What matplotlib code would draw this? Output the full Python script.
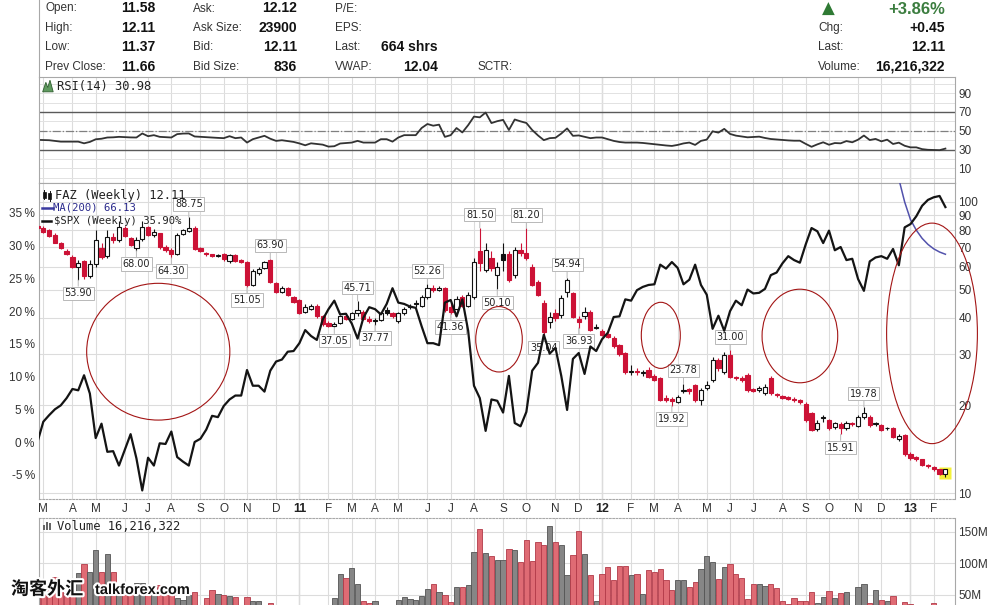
import numpy as np
import pandas as pd
import matplotlib
matplotlib.use("Agg")
import matplotlib.pyplot as plt
import matplotlib.transforms as mtrans
import matplotlib.patheffects as pe
from matplotlib.patches import Ellipse, Polygon, Rectangle
from matplotlib.lines import Line2D
from matplotlib.ticker import NullLocator

plt.rcParams['font.family'] = ['Liberation Sans', 'DejaVu Sans']

# weekly bars (week ending Friday)
weeks = pd.date_range("2010-02-26", periods=157, freq="W-FRI")

faz_open = [
    83.0, 81.4, 80.0, 77.0, 72.0, 68.0, 64.5, 60.0, 62.5, 55.5,
    61.0, 69.5, 65.0, 75.5, 74.0, 81.5, 75.0, 69.5, 74.5, 82.0,
    77.0, 78.0, 70.0, 68.5, 66.0, 77.5, 79.5, 81.5, 69.5, 67.0,
    66.0, 65.2, 66.0, 62.5, 65.5, 63.0, 62.0, 52.0, 57.0, 59.5,
    63.0, 52.5, 49.0, 50.5, 47.0, 46.0, 41.8, 43.0, 44.0, 40.5,
    38.5, 37.4, 38.5, 40.5, 39.5, 41.5, 42.0, 39.5, 39.0, 39.3,
    42.5, 41.5, 39.0, 41.5, 43.5, 45.0, 44.0, 47.0, 50.5, 50.0,
    50.5, 43.5, 43.0, 47.0, 44.0, 47.0, 68.0, 58.5, 64.0, 56.0,
    66.0, 66.0, 56.0, 68.5, 67.0, 60.0, 53.0, 45.0, 38.8, 41.5,
    40.9, 49.0, 48.5, 39.5, 40.5, 42.0, 37.0, 36.0, 35.2, 34.0,
    32.2, 30.3, 26.0, 26.3, 25.8, 26.5, 25.2, 24.8, 21.2, 21.0,
    20.6, 22.5, 22.7, 23.5, 20.9, 22.9, 24.4, 28.7, 26.1, 29.8,
    25.0, 24.8, 25.4, 22.8, 22.6, 22.0, 24.8, 21.9, 21.6, 21.3,
    21.0, 20.8, 20.3, 18.8, 16.55, 18.2, 17.8, 16.9, 17.3, 16.7,
    17.4, 17.0, 18.2, 18.3, 17.3, 17.1, 16.7, 16.7, 15.3, 15.8,
    13.6, 13.3, 13.05, 12.5, 12.3, 12.05, 11.58]
faz_high = [
    84.0, 82.5, 81.0, 78.0, 73.0, 69.0, 65.5, 63.0, 63.0, 63.0,
    80.0, 72.0, 80.0, 78.0, 86.0, 82.5, 76.0, 75.5, 86.0, 83.0,
    80.5, 78.5, 71.0, 69.5, 78.5, 81.0, 88.75, 82.5, 70.0, 67.5,
    66.5, 66.0, 67.0, 66.5, 66.0, 63.5, 62.5, 59.0, 60.0, 62.8,
    63.9, 53.0, 51.5, 51.0, 47.5, 46.5, 44.5, 44.5, 44.5, 41.0,
    39.0, 38.8, 41.0, 41.5, 42.0, 45.71, 42.5, 40.5, 40.0, 42.0,
    43.5, 42.0, 42.0, 43.5, 44.5, 46.0, 48.0, 52.26, 52.0, 51.5,
    51.0, 45.0, 47.5, 48.0, 49.0, 64.0, 81.5, 72.0, 68.0, 62.0,
    72.0, 68.0, 70.0, 72.0, 81.2, 61.0, 54.0, 46.0, 42.0, 43.0,
    48.0, 54.94, 49.0, 40.5, 43.5, 42.5, 38.0, 36.5, 35.6, 34.5,
    32.5, 30.6, 27.5, 26.8, 26.5, 27.0, 25.6, 25.1, 21.8, 21.3,
    21.8, 23.78, 23.0, 23.6, 23.0, 24.2, 29.3, 29.0, 30.4, 31.0,
    25.3, 25.2, 25.8, 23.0, 23.4, 23.6, 25.2, 22.1, 21.8, 21.6,
    21.3, 21.1, 20.6, 19.0, 17.8, 18.5, 18.0, 17.6, 17.5, 17.7,
    17.6, 18.5, 19.78, 18.5, 17.6, 17.3, 16.9, 16.8, 15.9, 16.0,
    13.8, 13.4, 13.1, 12.6, 12.4, 12.1, 12.11]
faz_low = [
    80.5, 78.0, 76.0, 72.0, 69.0, 65.5, 59.5, 53.9, 54.5, 55.0,
    60.0, 63.5, 64.0, 72.5, 73.0, 75.5, 70.5, 68.0, 73.5, 76.5,
    75.5, 69.0, 67.5, 64.3, 65.5, 77.0, 79.0, 68.5, 67.5, 65.0,
    64.8, 64.5, 62.5, 61.5, 62.0, 61.5, 51.05, 51.5, 56.0, 59.0,
    52.5, 48.5, 48.5, 47.5, 45.0, 41.2, 41.5, 42.5, 40.0, 37.5,
    37.3, 37.05, 38.2, 39.2, 39.3, 40.5, 39.2, 38.5, 37.77, 39.0,
    41.0, 40.0, 38.5, 41.0, 43.0, 43.5, 43.5, 46.5, 49.0, 49.5,
    42.0, 41.36, 42.5, 43.5, 43.5, 46.5, 58.0, 57.5, 58.0, 50.1,
    58.0, 53.0, 55.0, 65.0, 63.0, 51.5, 47.5, 35.04, 37.0, 39.0,
    40.0, 47.0, 40.0, 36.93, 39.5, 36.0, 36.5, 34.5, 34.0, 31.5,
    29.5, 25.6, 25.5, 25.5, 25.3, 24.8, 24.2, 20.7, 20.6, 19.92,
    20.4, 22.0, 21.9, 20.6, 20.0, 22.6, 24.0, 26.3, 25.6, 24.8,
    24.4, 24.1, 22.3, 22.2, 22.3, 21.8, 21.8, 21.4, 21.0, 20.9,
    20.6, 20.3, 17.6, 16.3, 16.3, 17.6, 16.5, 16.6, 15.91, 16.5,
    17.0, 16.8, 17.9, 16.9, 17.0, 16.3, 16.4, 15.4, 15.1, 13.4,
    13.0, 12.9, 12.4, 12.2, 11.9, 11.5, 11.37]
faz_close = [
    81.5, 79.0, 76.5, 72.5, 69.5, 66.0, 60.0, 61.5, 55.5, 61.0,
    74.0, 64.5, 76.0, 74.0, 82.0, 76.5, 71.0, 74.0, 82.0, 77.0,
    79.0, 70.0, 68.5, 66.5, 77.0, 80.0, 81.5, 69.0, 68.0, 66.0,
    65.2, 65.5, 63.5, 65.5, 62.5, 62.0, 52.0, 58.0, 59.0, 62.3,
    53.0, 49.0, 50.5, 48.0, 45.5, 41.6, 43.5, 44.0, 40.5, 38.0,
    37.6, 38.2, 40.5, 39.5, 41.5, 42.5, 39.5, 39.0, 39.3, 41.5,
    41.5, 40.5, 41.5, 43.0, 44.0, 44.5, 47.0, 50.5, 50.0, 50.5,
    42.5, 42.0, 46.5, 44.0, 48.0, 62.0, 61.5, 68.5, 59.5, 60.0,
    63.0, 54.0, 68.5, 67.0, 64.0, 52.0, 48.0, 35.7, 40.3, 40.0,
    46.8, 54.0, 40.3, 38.8, 42.0, 36.3, 37.2, 35.0, 34.4, 32.0,
    30.0, 26.0, 26.3, 26.0, 26.1, 25.0, 24.5, 20.9, 20.8, 20.7,
    21.4, 22.6, 22.4, 20.9, 22.6, 23.5, 28.7, 26.8, 29.8, 25.1,
    24.8, 24.5, 22.6, 22.5, 23.0, 23.1, 22.0, 21.7, 21.2, 21.1,
    20.9, 20.6, 17.8, 16.5, 17.35, 18.1, 16.7, 17.35, 16.7, 17.4,
    17.3, 18.2, 18.9, 17.1, 17.35, 16.5, 16.75, 15.6, 15.7, 13.6,
    13.15, 13.1, 12.5, 12.4, 12.05, 11.66, 12.11]

# $SPX performance since first bar, %
spx_pct = [
    0.0, 3.1, 4.1, 5.0, 5.6, 6.7, 8.1, 7.9, 10.2, 7.4,
    0.6, 2.8, -1.5, -1.4, -3.6, -1.2, 1.2, -2.5, -7.4, -2.4,
    -3.6, -0.2, -0.3, 1.6, -2.3, -3.0, -3.6, 0.0, 0.5, 1.9,
    4.0, 3.8, 5.5, 6.5, 7.1, 7.1, 11.0, 8.6, 8.6, 7.7,
    10.9, 12.3, 12.6, 13.8, 13.9, 15.1, 17.1, 16.2, 15.6, 18.7,
    20.3, 21.6, 19.5, 19.6, 18.1, 15.8, 19.0, 20.6, 20.3, 19.5,
    21.1, 23.5, 21.3, 21.1, 20.7, 20.5, 17.7, 15.1, 15.1, 14.8,
    21.3, 21.7, 19.2, 21.8, 17.0, 8.6, 6.7, 1.7, 6.5, 6.3,
    4.5, 10.1, 2.9, 2.4, 4.6, 10.9, 12.1, 16.4, 13.5, 14.4,
    10.1, 4.9, 12.7, 13.6, 10.4, 14.6, 13.9, 15.7, 16.7, 19.1,
    19.2, 21.8, 21.6, 23.2, 23.7, 24.0, 24.1, 27.1, 26.5, 27.5,
    26.6, 24.1, 24.8, 27.1, 24.0, 22.5, 17.3, 19.3, 17.0, 20.0,
    21.6, 20.9, 23.3, 22.7, 22.8, 23.4, 25.5, 25.9, 27.3, 28.4,
    27.8, 27.4, 30.2, 32.7, 32.2, 30.4, 32.3, 29.3, 29.8, 27.8,
    28.0, 24.9, 23.1, 27.6, 28.2, 28.4, 28.0, 29.5, 27.0, 32.8,
    33.3, 34.5, 36.1, 37.0, 37.4, 37.6, 35.9]

rsi14 = [
    40.3, 40.1, 39.9, 39.2, 38.4, 38.4, 38.4, 38.4, 36.6, 38.1,
    40.9, 41.5, 42.8, 43.0, 43.5, 43.2, 42.9, 42.8, 47.1, 44.2,
    45.3, 43.5, 43.1, 42.8, 46.4, 47.0, 47.1, 43.9, 43.5, 43.1,
    42.8, 42.4, 42.1, 44.2, 42.1, 42.8, 37.4, 41.0, 42.8, 44.6,
    41.5, 39.2, 39.9, 39.0, 38.1, 36.5, 34.5, 36.6, 35.9, 35.2,
    33.1, 33.5, 36.4, 36.9, 37.4, 39.2, 37.4, 37.4, 37.4, 41.0,
    41.0, 38.4, 42.8, 45.3, 45.3, 45.3, 52.9, 57.2, 55.4, 56.5,
    43.5, 45.3, 52.9, 48.2, 56.0, 65.1, 64.3, 69.4, 58.2, 60.2,
    61.6, 50.8, 62.0, 60.0, 58.3, 50.8, 45.0, 40.0, 42.1, 42.5,
    47.0, 52.5, 44.6, 45.0, 43.5, 42.1, 42.8, 42.8, 41.0, 39.2,
    38.0, 37.4, 37.4, 37.4, 37.0, 36.3, 35.5, 34.9, 34.3, 33.8,
    34.9, 36.5, 37.4, 34.9, 39.2, 40.6, 49.4, 48.0, 52.0, 46.6,
    44.8, 43.9, 43.0, 43.3, 43.7, 42.3, 41.2, 40.7, 40.1, 39.7,
    39.4, 39.4, 36.0, 32.9, 35.5, 37.7, 35.1, 36.9, 36.6, 39.0,
    37.7, 40.5, 44.9, 40.1, 41.3, 38.7, 40.5, 35.9, 37.3, 34.0,
    32.3, 32.3, 30.4, 29.7, 29.5, 29.3, 30.98]

# weekly volume, millions of shares
volume_m = [
    47, 55, 66, 79, 61, 53, 48, 85, 99, 87,
    121, 87, 115, 87, 63, 58, 66, 69, 69, 58,
    55, 66, 58, 50, 45, 42, 50, 55, 30, 45,
    58, 51, 50, 49, 47, 30, 47, 40, 40, 30,
    37, 25, 22, 20, 18, 28, 25, 22, 25, 28,
    26, 46, 84, 77, 93, 67, 40, 37, 40, 28,
    30, 30, 42, 47, 44, 42, 48, 60, 67, 55,
    50, 39, 63, 63, 66, 118, 154, 117, 112, 106,
    106, 123, 121, 102, 138, 104, 134, 130, 160, 134,
    129, 82, 113, 152, 115, 82, 40, 83, 95, 74,
    96, 96, 82, 83, 51, 90, 87, 91, 74, 58,
    74, 74, 62, 70, 91, 112, 103, 75, 95, 99,
    83, 77, 44, 68, 67, 65, 67, 61, 40, 35,
    45, 40, 40, 55, 37, 47, 56, 46, 53, 54,
    25, 63, 67, 37, 58, 42, 40, 49, 25, 39,
    35, 25, 25, 20, 37, 18, 16.216322]

# MA(200) only reaches the chart over the final weeks
ma200_tail = [142, 120, 100, 87, 80, 75, 71.5, 69, 67.3, 66.13]

# swing highs / lows that carry a price tag
peak_weeks = [26, 40, 55, 67, 76, 84, 91, 111, 119, 142]
trough_weeks = [7, 17, 23, 36, 51, 58, 71, 79, 87, 93, 109, 138]

# hand drawn circles: centre week, centre %, width (weeks), height (%)
circles = [(20.75, 13.8, 24.6, 20.9), (79.3, 15.7, 8.0, 10.0),
           (107.1, 16.3, 6.7, 10.1), (131.0, 16.2, 13.0, 14.3),
           (153.7, 16.6, 15.6, 33.7)]

quote_cols = [
    (["Open:", "High:", "Low:", "Prev Close:"], ["11.58", "12.11", "11.37", "11.66"]),
    (["Ask:", "Ask Size:", "Bid:", "Bid Size:"], ["12.12", "23900", "12.11", "836"]),
    (["P/E:", "EPS:", "Last:", "VWAP:"], ["", "", "664 shrs", "12.04"]),
]
quote_right = (["Chg:", "Last:", "Volume:"], ["+0.45", "12.11", "16,216,322"])
pct_change = "+3.86%"

# ---------------------------------------------------------------
W, H = 1004, 605
fig = plt.figure(figsize=(W / 100, H / 100), dpi=100)


def fx(px):
    return px / W


def fy(py):
    return 1 - py / H


L, R = 39, 955
ax_rsi = fig.add_axes([fx(L), fy(183), fx(R - L), (183 - 77) / H])
ax = fig.add_axes([fx(L), fy(499), fx(R - L), (499 - 183) / H], sharex=ax_rsi)
ax_vol = fig.add_axes([fx(L), fy(626.5), fx(R - L), (626.5 - 518) / H], sharex=ax_rsi)
ax_spx = ax.twinx()

x = np.arange(len(weeks))
o, h, l, c = (np.array(v, float) for v in (faz_open, faz_high, faz_low, faz_close))
prev = np.r_[o[0], c[:-1]]
down = c < prev

mondays = weeks - pd.Timedelta(days=4)
month_idx = [i for i in range(1, len(weeks)) if mondays[i].month != mondays[i - 1].month]
year_idx = [i for i in month_idx if mondays[i].month == 1]

GRID = '#dcdcdc'
for a in (ax_rsi, ax, ax_vol):
    for s in a.spines.values():
        s.set_color('#a8a8a8')
        s.set_linewidth(0.8)
    a.set_xticks(month_idx)
    a.tick_params(axis='x', length=0, labelbottom=False)
    a.tick_params(axis='y', length=0, labelsize=8.5, labelcolor='#333333', pad=2.5)
    a.grid(axis='x', color=GRID, lw=0.8)
    for i in year_idx:
        a.axvline(i, color='#c4c4c4', lw=0.9, zorder=0)
    a.set_axisbelow(True)
ax_rsi.set_xlim(0.26, 157.65)

# ---- RSI panel
ax_rsi.set_ylim(-5.7, 107.3)
ax_rsi.yaxis.tick_right()
ax_rsi.set_yticks(range(0, 101, 10))
ax_rsi.set_yticklabels([str(v) if v in (10, 30, 50, 70, 90) else '' for v in range(0, 101, 10)])
ax_rsi.grid(axis='y', color='#e2e2e2', lw=0.7)
ax_rsi.axhline(70, color='#5a5a5a', lw=1.0)
ax_rsi.axhline(30, color='#5a5a5a', lw=1.0)
ax_rsi.axhline(50, color='#808080', lw=0.9, ls='-.')
ax_rsi.plot(x, rsi14, color='#333333', lw=1.3)
ax_rsi.text(0.0197, 0.915, f"RSI(14) {rsi14[-1]:.2f}", transform=ax_rsi.transAxes,
            family='DejaVu Sans Mono', fontsize=8.7, color='#222222', va='center')
ax_rsi.add_patch(Polygon([[0.004, 0.86], [0.0075, 0.95], [0.0095, 0.90], [0.012, 0.97],
                          [0.0155, 0.86]], closed=True, transform=ax_rsi.transAxes,
                         fc='#5f9a5f', ec='#2f5f2f', lw=0.6))

# ---- price panel (log price right, % of $SPX left)
ax.set_yscale('log')
ax.set_ylim(9.537, 116.2)
ax.yaxis.tick_right()
pticks = list(range(10, 101, 10))
ax.set_yticks(pticks)
ax.set_yticklabels([str(v) for v in pticks])
ax.yaxis.set_minor_locator(NullLocator())
ax.grid(axis='y', color=GRID, lw=0.8)
ax.spines['bottom'].set_linestyle((0, (1.5, 1.5)))

red = '#cc1236'
edge = np.where(down, red, '#111111')
face = np.where(c < o, edge, 'white')
ax.vlines(x, l, h, colors=edge, lw=0.8, zorder=2)
bottom = np.minimum(o, c)
top = np.maximum(np.maximum(o, c), bottom * 1.003)
ax.bar(x, top - bottom, bottom=bottom, width=0.72, color=face, edgecolor=edge,
       lw=0.8, zorder=3)
ax.plot(x[-1], np.sqrt(h[-1] * l[-1]), marker='s', ms=9, mfc='#f4f23a', mec='none', zorder=1.5)
ax.plot(x[-len(ma200_tail):], ma200_tail, color='#5252ac', lw=1.1, zorder=4)

tag = dict(textcoords='offset points', ha='center', va='center', fontsize=7,
           family='DejaVu Sans', color='#222222',
           bbox=dict(boxstyle='square,pad=0.18', fc='white', ec='#b8b8b8', lw=0.7),
           arrowprops=dict(arrowstyle='-', color='#b8b8b8', lw=0.7, shrinkA=0, shrinkB=0),
           zorder=6)
for i in peak_weeks:
    ax.annotate(f"{h[i]:.2f}", xy=(i, h[i]), xytext=(0, 9.5), **tag)
for i in trough_weeks:
    ax.annotate(f"{l[i]:.2f}", xy=(i, l[i]), xytext=(0, -9.5), **tag)

ax_spx.set_ylim(-8.71, 39.58)
ax_spx.yaxis.tick_left()
pct_ticks = list(range(-5, 36, 5))
ax_spx.set_yticks(pct_ticks)
ax_spx.set_yticklabels([f"{v}\u2009%" for v in pct_ticks])
ax_spx.tick_params(axis='y', length=0, labelsize=8.5, labelcolor='#333333', pad=3)
for s in ax_spx.spines.values():
    s.set_visible(False)
ax_spx.plot(x, spx_pct, color='#141414', lw=1.6, zorder=5)
for cx, cy, cw, ch in circles:
    ax_spx.add_patch(Ellipse((cx, cy), cw, ch, fill=False, ec='#a31515', lw=0.8,
                             clip_on=False, zorder=6))

ax.text(0.0175, 0.962, f"FAZ (Weekly) {c[-1]:.2f}", transform=ax.transAxes,
        family='DejaVu Sans Mono', fontsize=8.7, color='#222222', va='center', zorder=7)
ax.text(0.0153, 0.921, f"MA(200) {ma200_tail[-1]:.2f}", transform=ax.transAxes,
        family='DejaVu Sans Mono', fontsize=7.6, color='#2a2a8c', va='center', zorder=7)
ax.text(0.0164, 0.880, f"$SPX (Weekly) {spx_pct[-1]:.2f}%", transform=ax.transAxes,
        family='DejaVu Sans Mono', fontsize=7.6, color='#222222', va='center', zorder=7)
ax.add_line(Line2D([0.0035, 0.0150], [0.921, 0.921], transform=ax.transAxes,
                   color='#3a3aa0', lw=1.8))
ax.add_line(Line2D([0.0035, 0.0135], [0.880, 0.880], transform=ax.transAxes,
                   color='#111111', lw=1.8))
for dx, y0, y1, b0, b1 in [(0.006, 0.948, 0.978, 0.953, 0.972), (0.0115, 0.944, 0.975, 0.950, 0.967)]:
    ax.add_line(Line2D([dx, dx], [y0, y1], transform=ax.transAxes, color='#111111', lw=0.7))
    ax.add_patch(Rectangle((dx - 0.0018, b0), 0.0036, b1 - b0, transform=ax.transAxes,
                           fc='#111111', ec='#111111', lw=0.5))

# month letters between panels
tr = mtrans.blended_transform_factory(ax.transData, ax.transAxes)
for i in month_idx:
    m = mondays[i].month
    if m == 1:
        ax.text(i, -0.0316, f"{mondays[i].year % 100:02d}", transform=tr, ha='center',
                va='center', fontsize=9, fontweight='bold', color='#222222')
    else:
        ax.text(i, -0.0316, 'JFMAMJJASOND'[m - 1], transform=tr, ha='center',
                va='center', fontsize=8.5, color='#333333')

# ---- volume panel
vol = np.array(volume_m, float)
ax_vol.set_ylim(0, 172.2)
ax_vol.yaxis.tick_right()
ax_vol.set_yticks([50, 100, 150])
ax_vol.set_yticklabels(['50M', '100M', '150M'])
ax_vol.grid(axis='y', color=GRID, lw=0.8)
ax_vol.spines['top'].set_linestyle((0, (1.5, 1.5)))
ax_vol.bar(x, vol, width=0.9, color=np.where(down, '#df6b74', '#868686'),
           edgecolor=np.where(down, '#b23a48', '#545454'), lw=0.6, zorder=2)
ax_vol.text(0.0197, 0.926, f"Volume {vol[-1] * 1e6:,.0f}", transform=ax_vol.transAxes,
            family='DejaVu Sans Mono', fontsize=8.7, color='#222222', va='center')
for k, hh in enumerate([0.05, 0.08, 0.065]):
    ax_vol.add_patch(Rectangle((0.004 + k * 0.0035, 0.885), 0.0025, hh,
                               transform=ax_vol.transAxes, fc='#666666', ec='none'))

# ---- quote header
fig.add_artist(Line2D([fx(39.5), fx(39.5)], [fy(0), fy(77)], color='#a8a8a8', lw=0.8))
rows_y = [8.5, 28.3, 47.3, 66.7]
for (labels, values), lx, vx in zip(quote_cols, [45, 193, 335], [155, 297, 438]):
    for yy, lab, val in zip(rows_y, labels, values):
        fig.text(fx(lx), fy(yy), lab, fontsize=8.5, color='#333333', va='center')
        fig.text(fx(vx), fy(yy), val, fontsize=10, fontweight='bold', color='#111111',
                 va='center', ha='right')
fig.text(fx(478), fy(rows_y[3]), "SCTR:", fontsize=8.5, color='#333333', va='center')
fig.text(fx(828), fy(9), "\u25b2", family='DejaVu Sans', fontsize=12, color='#2f7a34',
         ha='center', va='center')
fig.text(fx(945), fy(9), pct_change, fontsize=12, fontweight='bold', color='#3b7d3f',
         ha='right', va='center')
for yy, lab, val in zip(rows_y[1:], *quote_right):
    fig.text(fx(818), fy(yy), lab, fontsize=8.5, color='#333333', va='center')
    fig.text(fx(945), fy(yy), val, fontsize=10, fontweight='bold', color='#111111',
             ha='right', va='center')

# watermark
halo = [pe.withStroke(linewidth=3, foreground='white')]
fig.text(fx(11), fy(589), "淘客外汇", family=['Noto Sans CJK SC', 'DejaVu Sans'],
         fontsize=13, fontweight='bold', color='#111111', va='center', path_effects=halo)
fig.text(fx(95), fy(590), "talkforex.com", fontsize=10.5, fontweight='bold',
         color='#111111', va='center', path_effects=halo)

fig.savefig('out.png', dpi=100)
